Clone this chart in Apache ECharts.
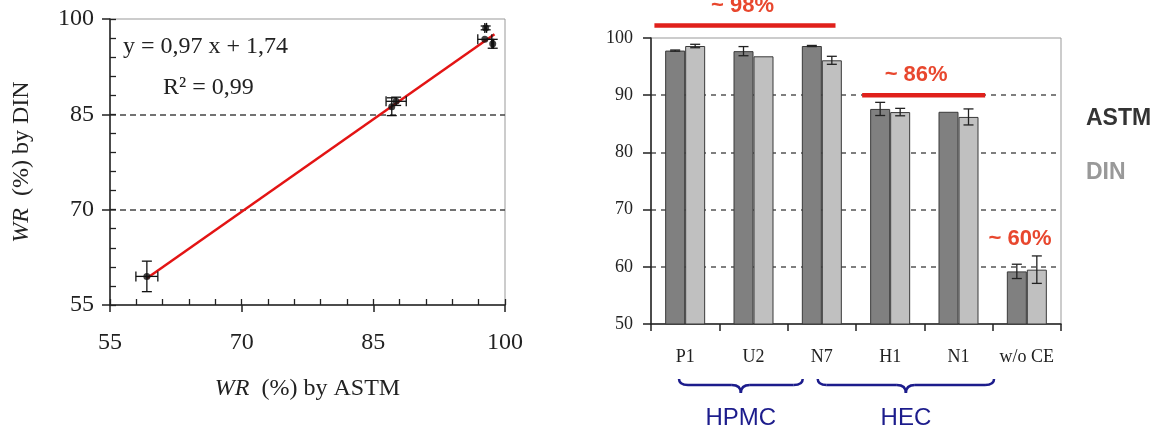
<!DOCTYPE html>
<html><head><meta charset="utf-8">
<script src="https://cdn.jsdelivr.net/npm/echarts@6/dist/echarts.min.js"></script>
<style>html,body{margin:0;padding:0;background:#fff}#c{width:1160px;height:432px}</style>
</head><body><div id="c"></div>
<script>
// ---- data ----
const categories = ['P1', 'U2', 'N7', 'H1', 'N1', 'w/o CE'];
const astm = [97.8, 97.7, 98.6, 87.6, 87.1, 59.2];
const din = [98.6, 96.8, 96.1, 87.05, 86.2, 59.5];
const astmErr = [0.1, 0.8, 0.1, 1.15, 0, 1.25];
const dinErr = [0.3, 0, 0.7, 0.65, 1.4, 2.4];
const fitLine = [[59.2, 59.2], [98.8, 97.6]];
const fitEquation = 'y = 0,97 x + 1,74';
const fitR2 = 'R² = 0,99';
const scatterTicks = [55, 70, 85, 100];
const barTicks = [50, 60, 70, 80, 90, 100];
const groups = [{ label: 'HPMC', from: -0.09, to: 1.72 }, { label: 'HEC', from: 1.94, to: 4.52 }];
const levels = [
  { label: '~ 98%', from: -0.45, to: 2.2, lineAt: 102.2, textAt: [0.84, 105.6] },
  { label: '~ 86%', from: 2.59, to: 4.39, lineAt: 90, textAt: [3.38, 93.5] },
  { label: '~ 60%', from: null, to: null, lineAt: null, textAt: [4.9, 64.9] }
];

const BAR_W = 20;
const SERIF = '"Liberation Serif", "Times New Roman", serif';
const SANS = '"Liberation Sans", Arial, sans-serif';
const chart = echarts.init(document.getElementById('c'), null, { renderer: 'canvas' });

function errBars(params, api) {
  const x = api.value(0), y = api.value(1), xe = api.value(2), ye = api.value(3);
  const c = api.coord([x, y]);
  const st = { stroke: '#111', lineWidth: 1.3 };
  const cap = 5, ch = [];
  if (ye > 0) {
    const t = api.coord([x, y + ye])[1], b = api.coord([x, y - ye])[1];
    ch.push({ type: 'line', shape: { x1: c[0], y1: t, x2: c[0], y2: b }, style: st });
    ch.push({ type: 'line', shape: { x1: c[0] - cap, y1: t, x2: c[0] + cap, y2: t }, style: st });
    ch.push({ type: 'line', shape: { x1: c[0] - cap, y1: b, x2: c[0] + cap, y2: b }, style: st });
  }
  if (xe > 0) {
    const l = api.coord([x - xe, y])[0], r = api.coord([x + xe, y])[0];
    ch.push({ type: 'line', shape: { x1: l, y1: c[1], x2: r, y2: c[1] }, style: st });
    ch.push({ type: 'line', shape: { x1: l, y1: c[1] - cap, x2: l, y2: c[1] + cap }, style: st });
    ch.push({ type: 'line', shape: { x1: r, y1: c[1] - cap, x2: r, y2: c[1] + cap }, style: st });
  }
  return { type: 'group', children: ch };
}

function barErr(vals, errs, side) {
  return {
    type: 'custom', xAxisIndex: 2, yAxisIndex: 2, z: 5, silent: true,
    data: vals.map((v, i) => [i, v, errs[i]]),
    encode: { x: 0, y: 1 },
    renderItem(params, api) {
      const i = api.value(0), v = api.value(1), e = api.value(2);
      if (!(e > 0)) return null;
      const cx = api.coord([i, v])[0] + side * BAR_W / 2;
      const t = api.coord([i, v + e])[1], b = api.coord([i, v - e])[1];
      const st = { stroke: '#222', lineWidth: 1.3 };
      const cap = 5;
      return { type: 'group', children: [
        { type: 'line', shape: { x1: cx, y1: t, x2: cx, y2: b }, style: st },
        { type: 'line', shape: { x1: cx - cap, y1: t, x2: cx + cap, y2: t }, style: st },
        { type: 'line', shape: { x1: cx - cap, y1: b, x2: cx + cap, y2: b }, style: st }
      ]};
    }
  };
}

const axisLineDark = { show: true, lineStyle: { color: '#222', width: 1.5 } };
const option = {
  animation: false,
  backgroundColor: '#fff',
  grid: [
    { left: 110, right: 655, top: 19, bottom: 127, show: true, borderColor: '#999', borderWidth: 1 },
    { left: 651, right: 99, top: 38, bottom: 108, show: true, borderColor: '#999', borderWidth: 1 }
  ],
  legend: {
    data: [{ name: 'ASTM', textStyle: { color: '#333' } }, { name: 'DIN', textStyle: { color: '#999' } }],
    orient: 'vertical', left: 1076, top: 102, icon: 'none', itemWidth: 0, itemGap: 31,
    selectedMode: false,
    textStyle: { fontSize: 23, fontWeight: 'bold', fontFamily: SANS }
  },
  xAxis: [
    {
      gridIndex: 0, type: 'value', min: scatterTicks[0], max: scatterTicks[scatterTicks.length - 1], interval: 15,
      position: 'bottom',
      axisLine: axisLineDark,
      axisTick: { show: true, length: 7, lineStyle: { color: '#222', width: 1.5 } },
      axisLabel: { fontSize: 24, fontFamily: SERIF, color: '#222', margin: 26 },
      splitLine: { show: false },
      name: '{i|WR}  (%) by ASTM', nameLocation: 'middle', nameGap: 72,
      nameTextStyle: { fontSize: 24, fontFamily: SERIF, color: '#222',
        rich: { i: { fontStyle: 'italic', fontSize: 24, fontFamily: SERIF, color: '#222' } } }
    },
    {
      gridIndex: 0, type: 'value', min: scatterTicks[0], max: scatterTicks[scatterTicks.length - 1], interval: 3,
      position: 'bottom',
      axisLine: { show: false },
      axisTick: { show: true, inside: true, length: 6, lineStyle: { color: '#222', width: 1.3 } },
      axisLabel: { show: false }, splitLine: { show: false }
    },
    {
      gridIndex: 1, type: 'category', data: categories,
      axisLine: axisLineDark,
      axisTick: { show: true, alignWithLabel: false, interval: 0, length: 7, lineStyle: { color: '#222', width: 1.5 } },
      axisLabel: { interval: 0, fontSize: 18, fontFamily: SERIF, color: '#222', margin: 24 },
      splitLine: { show: false }
    }
  ],
  yAxis: [
    {
      gridIndex: 0, type: 'value', min: scatterTicks[0], max: scatterTicks[scatterTicks.length - 1], interval: 15,
      axisLine: axisLineDark,
      axisTick: { show: true, length: 8, lineStyle: { color: '#222', width: 1.5 } },
      axisLabel: { fontSize: 24, fontFamily: SERIF, color: '#222', margin: 16 },
      splitLine: { show: true, showMinLine: false, showMaxLine: false,
        lineStyle: { color: '#444', type: [6, 4], width: 1.5 } },
      name: '{i|WR}  (%) by DIN', nameLocation: 'middle', nameGap: 76, nameRotate: 90,
      nameTextStyle: { fontSize: 24, fontFamily: SERIF, color: '#222',
        rich: { i: { fontStyle: 'italic', fontSize: 24, fontFamily: SERIF, color: '#222' } } }
    },
    {
      gridIndex: 0, type: 'value', min: scatterTicks[0], max: scatterTicks[scatterTicks.length - 1], interval: 3,
      position: 'left',
      axisLine: { show: false },
      axisTick: { show: true, inside: true, length: 6, lineStyle: { color: '#222', width: 1.3 } },
      axisLabel: { show: false }, splitLine: { show: false }
    },
    {
      gridIndex: 1, type: 'value', min: barTicks[0], max: barTicks[barTicks.length - 1], interval: 10,
      axisLine: axisLineDark,
      axisTick: { show: true, length: 8, lineStyle: { color: '#222', width: 1.5 } },
      axisLabel: { fontSize: 18, fontFamily: SERIF, color: '#222', margin: 18 },
      splitLine: { show: true, showMinLine: false, showMaxLine: false,
        lineStyle: { color: '#555', type: [5, 5], width: 1.5 } }
    }
  ],
  series: [
    {
      type: 'line', xAxisIndex: 0, yAxisIndex: 0, data: fitLine, showSymbol: false, silent: true,
      lineStyle: { color: '#e31414', width: 2.5 }, z: 3
    },
    {
      type: 'custom', xAxisIndex: 0, yAxisIndex: 0, z: 4, silent: true,
      data: astm.map((x, i) => [x, din[i], astmErr[i], dinErr[i]]),
      encode: { x: 0, y: 1 }, renderItem: errBars
    },
    {
      type: 'scatter', xAxisIndex: 0, yAxisIndex: 0, z: 5,
      data: astm.map((x, i) => [x, din[i]]), symbolSize: 7,
      itemStyle: { color: '#111' }
    },
    {
      name: 'ASTM', type: 'bar', xAxisIndex: 2, yAxisIndex: 2, data: astm,
      barWidth: BAR_W, barGap: '0%',
      itemStyle: { color: '#808080', borderColor: '#3a3a3a', borderWidth: 1 }
    },
    {
      name: 'DIN', type: 'bar', xAxisIndex: 2, yAxisIndex: 2, data: din,
      barWidth: BAR_W, barGap: '0%',
      itemStyle: { color: '#c0c0c0', borderColor: '#3a3a3a', borderWidth: 1 }
    },
    barErr(astm, astmErr, -1),
    barErr(din, dinErr, 1)
  ]
};
chart.setOption(option);

// annotations placed from the bar chart's own scales
function catPx(f, v) {
  const p0 = chart.convertToPixel({ xAxisIndex: 2, yAxisIndex: 2 }, [0, v]);
  const p1 = chart.convertToPixel({ xAxisIndex: 2, yAxisIndex: 2 }, [1, v]);
  return [p0[0] + f * (p1[0] - p0[0]), p0[1]];
}
const g = [];
levels.forEach(l => {
  if (l.lineAt !== null) {
    const a = catPx(l.from, l.lineAt), b = catPx(l.to, l.lineAt);
    g.push({ type: 'line', z: 20, shape: { x1: a[0], y1: a[1], x2: b[0], y2: b[1] },
      style: { stroke: '#e0201b', lineWidth: 4.5 } });
  }
  const t = catPx(l.textAt[0], l.textAt[1]);
  g.push({ type: 'text', z: 20, x: t[0], y: t[1],
    style: { text: l.label, font: 'bold 22px ' + SANS, fill: '#e8472e',
      align: 'center', verticalAlign: 'middle', textAlign: 'center', textVerticalAlign: 'middle' } });
});
const yBase = chart.convertToPixel({ xAxisIndex: 2, yAxisIndex: 2 }, [0, barTicks[0]])[1];
const braceStyle = { fill: null, stroke: '#1c1c8c', lineWidth: 2.5 };
groups.forEach(gr => {
  const x1 = catPx(gr.from, 50)[0], x2 = catPx(gr.to, 50)[0], cx = (x1 + x2) / 2;
  const y0 = yBase + 55, ym = y0 + 6, yt = y0 + 14, r = 9;
  const q = (sx, sy, cpx, cpy, ex, ey) => ({ type: 'bezierCurve', z: 20,
    shape: { x1: sx, y1: sy, cpx1: cpx, cpy1: cpy, x2: ex, y2: ey }, style: braceStyle });
  const ln = (sx, sy, ex, ey) => ({ type: 'line', z: 20,
    shape: { x1: sx, y1: sy, x2: ex, y2: ey }, style: braceStyle });
  g.push(q(x1, y0, x1, ym, x1 + r, ym));
  g.push(ln(x1 + r, ym, cx - r, ym));
  g.push(q(cx - r, ym, cx, ym, cx, yt));
  g.push(q(cx, yt, cx, ym, cx + r, ym));
  g.push(ln(cx + r, ym, x2 - r, ym));
  g.push(q(x2 - r, ym, x2, ym, x2, y0));
  g.push({ type: 'text', z: 20, x: cx, y: yBase + 94,
    style: { text: gr.label, font: '24px ' + SANS, fill: '#1c1c8c',
      align: 'center', verticalAlign: 'middle', textAlign: 'center', textVerticalAlign: 'middle' } });
});
// regression annotation in the scatter panel
g.push({ type: 'text', z: 20, x: 123, y: 47,
  style: { text: fitEquation, font: '24px ' + SERIF, fill: '#222', verticalAlign: 'middle', textVerticalAlign: 'middle' } });
g.push({ type: 'text', z: 20, x: 163, y: 88,
  style: { text: fitR2, font: '24px ' + SERIF, fill: '#222', verticalAlign: 'middle', textVerticalAlign: 'middle' } });
chart.setOption({ graphic: g });
</script>
</body></html>
